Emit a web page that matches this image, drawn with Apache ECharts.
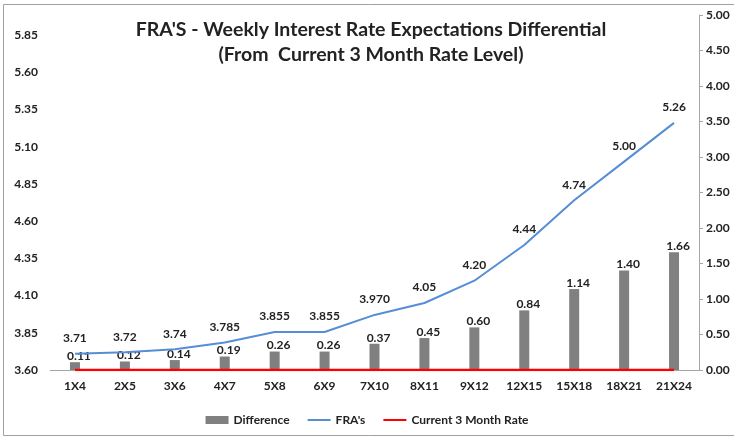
<!DOCTYPE html>
<html>
<head>
<meta charset="utf-8">
<script src="https://cdn.jsdelivr.net/npm/echarts@6/dist/echarts.min.js"></script>
<style>
  html, body { margin: 0; padding: 0; background: #fff; }
  #chart { width: 734px; height: 439px; }
</style>
</head>
<body>
<div id="chart"></div>
<script>
// tenors on the x axis
const categories = ['1X4', '2X5', '3X6', '4X7', '5X8', '6X9', '7X10', '8X11', '9X12', '12X15', '15X18', '18X21', '21X24'];
// FRA rates (left axis) and the labels as printed on the chart
const fraRates = [3.71, 3.72, 3.74, 3.785, 3.855, 3.855, 3.970, 4.05, 4.20, 4.44, 4.74, 5.00, 5.26];
const fraLabels = ['3.71', '3.72', '3.74', '3.785', '3.855', '3.855', '3.970', '4.05', '4.20', '4.44', '4.74', '5.00', '5.26'];
// difference from current 3 month rate (right axis)
const difference = [0.11, 0.12, 0.14, 0.19, 0.26, 0.26, 0.37, 0.45, 0.60, 0.84, 1.14, 1.40, 1.66];
// current 3 month rate level
const currentRate = [3.60, 3.60, 3.60, 3.60, 3.60, 3.60, 3.60, 3.60, 3.60, 3.60, 3.60, 3.60, 3.60];

const font = 'Lato, "Open Sans", sans-serif';
const textColor = '#222';
const axisColor = '#a6a6a6';

const chart = echarts.init(document.getElementById('chart'));

const option = {
  backgroundColor: '#fff',
  animation: false,
  textStyle: { fontFamily: font },
  title: {
    text: "FRA'S - Weekly Interest Rate Expectations Differential\n(From  Current 3 Month Rate Level)",
    left: 366,
    top: 12,
    textAlign: 'center',
    textStyle: { fontFamily: font, fontSize: 19.5, fontWeight: 'bold', color: textColor, lineHeight: 25 }
  },
  // chart border
  graphic: [{
    type: 'rect',
    shape: { x: 3.5, y: 4.5, width: 740, height: 431 },
    style: { fill: 'none', stroke: '#a0a0a0', lineWidth: 1 },
    silent: true
  }],
  grid: { left: 50, right: 35, top: 15, bottom: 69 },
  legend: {
    top: 409,
    left: 'center',
    itemWidth: 23,
    itemHeight: 8,
    itemGap: 17,
    textStyle: { fontFamily: font, fontSize: 12, fontWeight: 'bold', color: textColor },
    data: [
      { name: 'Difference', icon: 'rect' },
      { name: "FRA's", itemStyle: { opacity: 0 } },
      { name: 'Current 3 Month Rate', itemStyle: { opacity: 0 } }
    ]
  },
  xAxis: {
    type: 'category',
    data: categories,
    axisLine: { show: true, lineStyle: { color: axisColor, width: 1 } },
    axisTick: { show: false },
    axisLabel: { color: textColor, fontFamily: font, fontSize: 12, fontWeight: 'bold', margin: 10 }
  },
  yAxis: [
    {
      type: 'value',
      min: 3.6,
      max: 5.985,
      interval: 0.25,
      axisLine: { show: false },
      axisTick: { show: false },
      splitLine: { show: false },
      axisLabel: {
        showMaxLabel: false,
        color: textColor, fontFamily: font, fontSize: 12, fontWeight: 'bold', margin: 12,
        formatter: v => v.toFixed(2)
      }
    },
    {
      type: 'value',
      min: 0,
      max: 5,
      interval: 0.5,
      position: 'right',
      axisLine: { show: true, lineStyle: { color: axisColor } },
      axisTick: { show: true, length: 4, lineStyle: { color: axisColor } },
      splitLine: { show: false },
      axisLabel: {
        color: textColor, fontFamily: font, fontSize: 12, fontWeight: 'bold', margin: 7,
        formatter: v => v.toFixed(2)
      }
    }
  ],
  series: [
    {
      name: 'Difference',
      type: 'bar',
      yAxisIndex: 1,
      barWidth: 10,
      data: difference,
      itemStyle: { color: '#808080' },
      label: {
        show: true,
        position: 'top',
        distance: 0,
        offset: [4, 0],
        color: textColor, fontFamily: font, fontSize: 12, fontWeight: 'bold',
        formatter: p => p.value.toFixed(2)
      }
    },
    {
      name: "FRA's",
      type: 'line',
      yAxisIndex: 0,
      data: fraRates,
      symbol: 'circle',
      symbolSize: 1,
      showSymbol: true,
      lineStyle: { color: '#558ED5', width: 2 },
      itemStyle: { color: 'rgba(85,142,213,0)' },
      label: {
        show: true,
        position: 'top',
        distance: 9,
        color: textColor, fontFamily: font, fontSize: 12, fontWeight: 'bold',
        formatter: p => fraLabels[p.dataIndex]
      },
      z: 3
    },
    {
      name: 'Current 3 Month Rate',
      type: 'line',
      yAxisIndex: 0,
      data: currentRate,
      symbol: 'none',
      lineStyle: { color: '#ff0000', width: 2.5 },
      itemStyle: { color: '#ff0000' },
      z: 4
    }
  ]
};

chart.setOption(option);
</script>
</body>
</html>
